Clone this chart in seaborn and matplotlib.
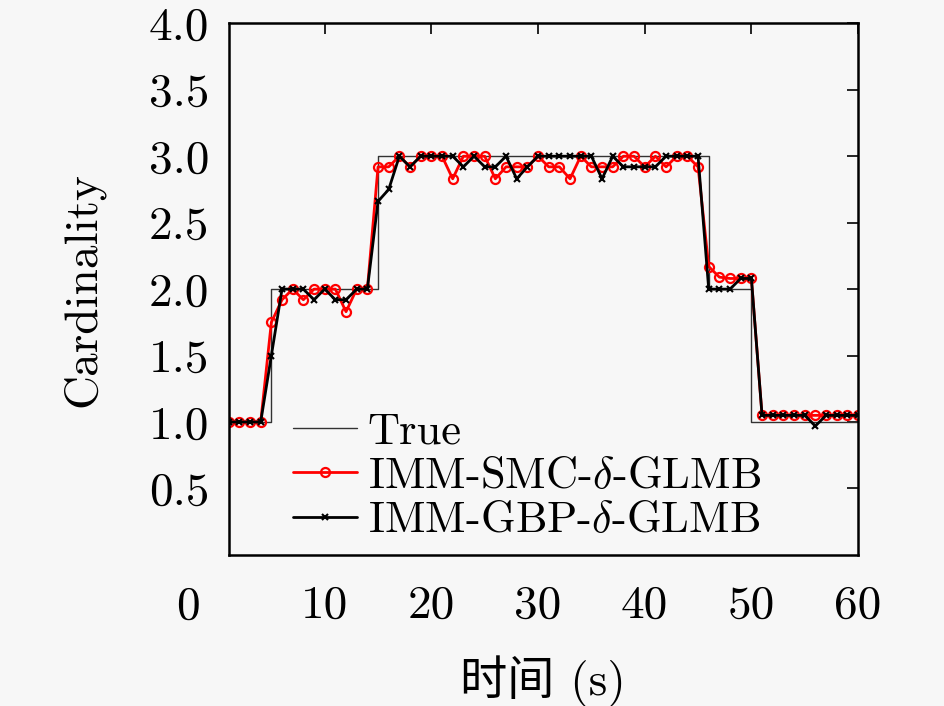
import matplotlib
matplotlib.use('Agg')
import matplotlib.pyplot as plt
import pandas as pd
import seaborn as sns

# time steps (s)
time_s = list(range(1, 61))

true_card = [1] * 4 + [2] * 10 + [3] * 31 + [2] * 4 + [1] * 11

smc_card = [
    1.0, 1.0, 1.0, 1.0, 1.75, 1.92, 2.0, 1.92, 2.0, 2.0,
    2.0, 1.83, 2.0, 2.0, 2.92, 2.92, 3.0, 2.92, 3.0, 3.0,
    3.0, 2.83, 3.0, 3.0, 3.0, 2.83, 2.92, 2.92, 2.92, 3.0,
    2.92, 2.92, 2.83, 3.0, 2.92, 2.92, 2.92, 3.0, 3.0, 2.92,
    3.0, 2.92, 3.0, 3.0, 2.92, 2.17, 2.09, 2.08, 2.08, 2.08,
    1.05, 1.05, 1.05, 1.05, 1.05, 1.05, 1.05, 1.05, 1.05, 1.05,
]

gbp_card = [
    1.0, 1.0, 1.0, 1.0, 1.5, 2.0, 2.0, 2.0, 1.92, 2.0,
    1.92, 1.92, 2.0, 2.0, 2.66, 2.75, 3.0, 2.92, 3.0, 3.0,
    3.0, 3.0, 2.92, 3.0, 2.92, 2.92, 3.0, 2.83, 2.92, 3.0,
    3.0, 3.0, 3.0, 3.0, 3.0, 2.83, 3.0, 2.92, 2.92, 2.92,
    2.92, 3.0, 3.0, 3.0, 3.0, 2.0, 2.0, 2.0, 2.08, 2.08,
    1.05, 1.05, 1.05, 1.05, 1.05, 0.97, 1.05, 1.05, 1.05, 1.05,
]

x_ticks = [10, 20, 30, 40, 50, 60]
y_ticks = [0.5, 1.0, 1.5, 2.0, 2.5, 3.0, 3.5, 4.0]

df = pd.DataFrame({'t': time_s, 'true': true_card, 'smc': smc_card, 'gbp': gbp_card})

sns.set_style('white')
bg = '#f7f7f7'
fs = 34
plt.rcParams['font.family'] = ['cmr10', 'Noto Sans CJK SC', 'DejaVu Sans']
plt.rcParams['mathtext.fontset'] = 'cm'
plt.rcParams['axes.formatter.use_mathtext'] = True
plt.rcParams['xtick.direction'] = 'in'
plt.rcParams['ytick.direction'] = 'in'
for k in ['text.color', 'axes.labelcolor', 'xtick.color', 'ytick.color']:
    plt.rcParams[k] = 'black'

fig = plt.figure(figsize=(9.45, 7.06), dpi=100, facecolor=bg)
ax = fig.add_axes([0.242, 0.214, 0.666, 0.753], facecolor=bg)

sns.lineplot(data=df, x='t', y='true', ax=ax, color='#333333', lw=1.0,
             drawstyle='steps-post', label='True')
sns.lineplot(data=df, x='t', y='smc', ax=ax, color='#ff0000', lw=2.0,
             marker='o', markersize=6.5, markerfacecolor='none',
             markeredgecolor='#ff0000', markeredgewidth=1.6,
             label=r'IMM-SMC-$\delta$-GLMB')
sns.lineplot(data=df, x='t', y='gbp', ax=ax, color='black', lw=2.0,
             marker='x', markersize=4, markeredgewidth=1.5,
             markeredgecolor='black', label=r'IMM-GBP-$\delta$-GLMB')

ax.set_xlim(1, 60)
ax.set_ylim(0, 4)
ax.set_xticks(x_ticks)
ax.set_xticklabels([str(v) for v in x_ticks])
ax.set_yticks(y_ticks)
ax.set_yticklabels([f'{v:.1f}' for v in y_ticks])
ax.tick_params(axis='both', labelsize=fs, length=8, width=1.2,
               top=True, right=True)
ax.tick_params(axis='x', pad=22)
ax.tick_params(axis='y', pad=14)

for s in ax.spines.values():
    s.set_linewidth(1.8)
    s.set_color('black')

# the "0" label sits left of the axes in the original
ax.text(188 / 945, 1 - 607 / 706, '0', transform=fig.transFigure,
        fontsize=fs, ha='center', va='center')

ax.set_xlabel('时间 (s)', fontsize=fs, labelpad=20)
ax.set_ylabel('Cardinality', fontsize=fs, labelpad=32)

ax.legend(loc='lower left', bbox_to_anchor=(0.067, -0.016), frameon=False,
          fontsize=32, handlelength=1.43, labelspacing=0.1,
          handletextpad=0.25, borderaxespad=0.1)

fig.savefig('out.png', dpi=100, facecolor=bg)
